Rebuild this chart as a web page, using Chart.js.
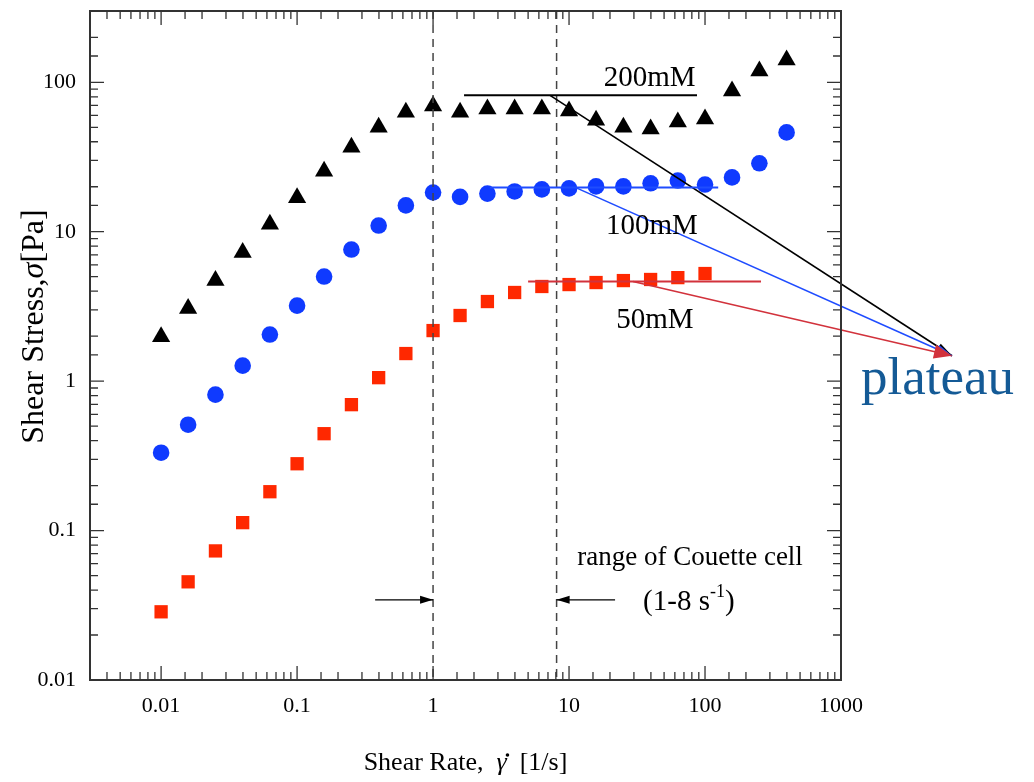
<!DOCTYPE html>
<html>
<head>
<meta charset="utf-8">
<script src="https://cdn.jsdelivr.net/npm/chart.js@4.4.0/dist/chart.umd.min.js"></script>
<style>
  html, body { margin: 0; padding: 0; background: #fff; }
  #wrap { width: 1034px; height: 782px; }
</style>
</head>
<body>
<div id="wrap"><canvas id="chart" width="1034" height="782"></canvas></div>
<script>
// Shear rate sweep, 5 points per decade [1/s]
const shearRate = [0.01, 0.0158, 0.0251, 0.0398, 0.0631, 0.1, 0.158, 0.251, 0.398, 0.631,
    1, 1.58, 2.51, 3.98, 6.31, 10, 15.8, 25.1, 39.8, 63.1, 100, 158, 251, 398];

// Shear stress [Pa]
const stress200mM = [1.98, 3.06, 4.71, 7.26, 11.2, 16.9, 25.4, 36.8, 50.1, 63.1,
    69.4, 63.1, 66.2, 66.2, 66.2, 64.3, 55.8, 50.1, 48.6, 54.2, 56.7, 87.4, 119, 141];
const stress100mM = [0.332, 0.511, 0.812, 1.27, 2.05, 3.2, 5.01, 7.6, 11.0, 15.0,
    18.3, 17.1, 18.0, 18.6, 19.2, 19.5, 20.1, 20.1, 21.1, 22.0, 20.7, 23.1, 28.7, 46.2];
const stress50mM = [0.0286, 0.0454, 0.0731, 0.113, 0.182, 0.280, 0.445, 0.696, 1.055, 1.53,
    2.18, 2.75, 3.41, 3.92, 4.30, 4.43, 4.57, 4.71, 4.79, 4.93, 5.25];

// Plateau guide lines (200, 100, 50 mM)
const concLabels = ['200mM', '100mM', '50mM'];
const plateauStress = [81.8, 19.8, 4.64];
const plateauFrom = [1.69, 2.62, 5.0];
const plateauTo = [87.3, 125, 258];
const pointerFrom = [7.25, 11.1, 29.5];
const pointerTip = [6550, 1.48];

// Couette cell working range [1/s]
const couetteRange = [1, 8.1];
const couetteArrowStress = 0.0344;
const couetteArrowTail = [0.375, 21.8];

const xTicks = [0.01, 0.1, 1, 10, 100, 1000];
const yTicks = [0.01, 0.1, 1, 10, 100];

const SERIF = "'Liberation Serif', 'Times New Roman', serif";
const lineColors = ['#000000', '#1f4cff', '#d2323c'];

function isDecade(v) {
    const l = Math.log10(v);
    return Math.abs(l - Math.round(l)) < 1e-6;
}

function fmt(v) {
    return v >= 1 ? String(Math.round(v)) : String(Number(v.toPrecision(1)));
}

function toPoints(xs, ys) {
    return ys.map((v, i) => ({ x: xs[i], y: v }));
}

// draw several text runs with own font and vertical shift, returns run start positions
function drawRuns(ctx, runs, x, y, align) {
    let total = 0;
    runs.forEach(r => { ctx.font = r[1]; total += ctx.measureText(r[0]).width; });
    let cx = align === 'center' ? x - total / 2 : x;
    const starts = [];
    ctx.textAlign = 'left';
    runs.forEach(r => {
        ctx.font = r[1];
        starts.push(cx);
        ctx.fillText(r[0], cx, y + (r[2] || 0));
        cx += ctx.measureText(r[0]).width;
    });
    return starts;
}

function arrowHead(ctx, x0, y0, x1, y1, len, half, color) {
    const a = Math.atan2(y1 - y0, x1 - x0);
    ctx.fillStyle = color;
    ctx.beginPath();
    ctx.moveTo(x1, y1);
    ctx.lineTo(x1 - len * Math.cos(a) + half * Math.sin(a), y1 - len * Math.sin(a) - half * Math.cos(a));
    ctx.lineTo(x1 - len * Math.cos(a) - half * Math.sin(a), y1 - len * Math.sin(a) + half * Math.cos(a));
    ctx.closePath();
    ctx.fill();
}

const decor = {
    id: 'decor',
    afterDatasetsDraw(chart) {
        const { ctx, chartArea: a, scales: { x, y } } = chart;
        ctx.save();

        // dashed range lines
        ctx.strokeStyle = '#444';
        ctx.lineWidth = 1.5;
        ctx.setLineDash([8, 6]);
        couetteRange.forEach(v => {
            const px = x.getPixelForValue(v);
            ctx.beginPath();
            ctx.moveTo(px, a.top);
            ctx.lineTo(px, a.bottom);
            ctx.stroke();
        });
        ctx.setLineDash([]);

        // range arrows
        const ay = y.getPixelForValue(couetteArrowStress);
        couetteArrowTail.forEach((t, i) => {
            const x0 = x.getPixelForValue(t);
            const x1 = x.getPixelForValue(couetteRange[i]);
            ctx.strokeStyle = '#000';
            ctx.lineWidth = 1.2;
            ctx.beginPath();
            ctx.moveTo(x0, ay);
            ctx.lineTo(x1, ay);
            ctx.stroke();
            arrowHead(ctx, x0, ay, x1, ay, 13, 4, '#000');
        });

        // plateau lines and pointers
        const tx = x.getPixelForValue(pointerTip[0]);
        const ty = y.getPixelForValue(pointerTip[1]);
        const heads = [[16, 4], [16, 4.5], [18, 7]];
        plateauStress.forEach((s, i) => {
            const py = y.getPixelForValue(s);
            ctx.strokeStyle = lineColors[i];
            ctx.lineWidth = 2;
            ctx.beginPath();
            ctx.moveTo(x.getPixelForValue(plateauFrom[i]), py);
            ctx.lineTo(x.getPixelForValue(plateauTo[i]), py);
            ctx.stroke();
            const sx = x.getPixelForValue(pointerFrom[i]);
            ctx.lineWidth = 1.6;
            ctx.beginPath();
            ctx.moveTo(sx, py);
            ctx.lineTo(tx, ty);
            ctx.stroke();
        });
        plateauStress.forEach((s, i) => {
            const py = y.getPixelForValue(s);
            const sx = x.getPixelForValue(pointerFrom[i]);
            arrowHead(ctx, sx, py, tx, ty, heads[i][0], heads[i][1], lineColors[i]);
        });

        // labels
        ctx.fillStyle = '#000';
        ctx.textBaseline = 'alphabetic';
        const labelAt = [[18, 94], [18.7, 9.59], [22.2, 2.28]];
        concLabels.forEach((t, i) => {
            drawRuns(ctx, [[t, '29px ' + SERIF]],
                x.getPixelForValue(labelAt[i][0]), y.getPixelForValue(labelAt[i][1]), 'left');
        });
        drawRuns(ctx, [['range of Couette cell', '27px ' + SERIF]],
            x.getPixelForValue(77.6), y.getPixelForValue(0.0589), 'center');
        drawRuns(ctx, [['(1-8 s', '29px ' + SERIF], ['-1', '18px ' + SERIF, -13], [')', '29px ' + SERIF]],
            x.getPixelForValue(76), y.getPixelForValue(0.0294), 'center');

        ctx.fillStyle = '#145a96';
        drawRuns(ctx, [['plateau', '53px ' + SERIF]],
            x.getPixelForValue(1403), y.getPixelForValue(0.825), 'left');
        ctx.restore();
    },
    afterDraw(chart) {
        const { ctx, chartArea: a, scales: { x, y } } = chart;
        ctx.save();
        // frame
        ctx.strokeStyle = '#333';
        ctx.lineWidth = 2;
        ctx.strokeRect(a.left, a.top, a.right - a.left, a.bottom - a.top);

        // inward ticks on all four sides
        ctx.lineWidth = 1.3;
        ctx.beginPath();
        x.ticks.forEach(t => {
            const p = x.getPixelForValue(t.value);
            const len = isDecade(t.value) ? 14 : 8;
            ctx.moveTo(p, a.bottom); ctx.lineTo(p, a.bottom - len);
            ctx.moveTo(p, a.top); ctx.lineTo(p, a.top + len);
        });
        y.ticks.forEach(t => {
            const p = y.getPixelForValue(t.value);
            const len = isDecade(t.value) ? 14 : 8;
            ctx.moveTo(a.left, p); ctx.lineTo(a.left + len, p);
            ctx.moveTo(a.right, p); ctx.lineTo(a.right - len, p);
        });
        ctx.stroke();

        // axis titles
        ctx.fillStyle = '#000';
        ctx.textBaseline = 'alphabetic';
        const font = '26px ' + SERIF;
        const base = a.bottom + 90;
        const st = drawRuns(ctx, [['Shear Rate,  ', font], ['\u03b3', 'italic ' + font], ['  [1/s]', font]],
            (a.left + a.right) / 2, base, 'center');
        // dot over gamma
        ctx.beginPath();
        ctx.arc(st[1] + 11, base - 15, 1.8, 0, Math.PI * 2);
        ctx.fill();

        ctx.translate(43, (a.top + a.bottom) / 2 - 19);
        ctx.rotate(-Math.PI / 2);
        drawRuns(ctx, [['Shear Stress,', '32px ' + SERIF], ['\u03c3', 'italic 32px ' + SERIF], ['[Pa]', '32px ' + SERIF]],
            0, 0, 'center');
        ctx.restore();
    }
};

new Chart(document.getElementById('chart'), {
    type: 'scatter',
    data: {
        datasets: [
            {
                label: '200mM',
                data: toPoints(shearRate, stress200mM),
                pointStyle: 'triangle',
                pointRadius: 10.5,
                pointBorderWidth: 0,
                backgroundColor: '#000000'
            },
            {
                label: '100mM',
                data: toPoints(shearRate, stress100mM),
                pointStyle: 'circle',
                pointRadius: 8.3,
                pointBorderWidth: 0,
                backgroundColor: '#0f3aff'
            },
            {
                label: '50mM',
                data: toPoints(shearRate, stress50mM),
                pointStyle: 'rect',
                pointRadius: 9.4,
                pointBorderWidth: 0,
                backgroundColor: '#ff2800'
            }
        ]
    },
    options: {
        responsive: false,
        devicePixelRatio: 1,
        animation: false,
        layout: { padding: { top: 11, right: 193, left: 0, bottom: 0 } },
        plugins: {
            legend: { display: false },
            tooltip: { enabled: false }
        },
        scales: {
            x: {
                type: 'logarithmic',
                min: 0.003,
                max: 1000,
                grid: { display: false, drawTicks: false },
                border: { display: false },
                afterFit: (s) => { s.height = 102; s.paddingLeft = 0; s.paddingRight = 0; },
                ticks: {
                    autoSkip: false,
                    maxRotation: 0,
                    padding: 13,
                    color: '#000',
                    font: { family: SERIF, size: 22 },
                    callback: (v) => xTicks.some(t => Math.abs(t - v) / t < 1e-6) ? fmt(v) : ''
                }
            },
            y: {
                type: 'logarithmic',
                min: 0.01,
                max: 300,
                grid: { display: false, drawTicks: false },
                border: { display: false },
                afterFit: (s) => { s.width = 90; s.paddingTop = 0; s.paddingBottom = 0; },
                ticks: {
                    autoSkip: false,
                    padding: 14,
                    color: '#000',
                    font: { family: SERIF, size: 22 },
                    callback: (v) => yTicks.some(t => Math.abs(t - v) / t < 1e-6) ? fmt(v) : ''
                }
            }
        }
    },
    plugins: [decor]
});
</script>
</body>
</html>
